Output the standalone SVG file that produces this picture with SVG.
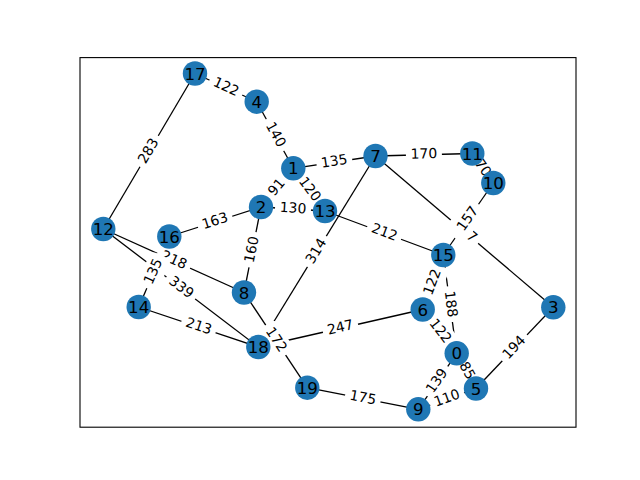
<svg xmlns="http://www.w3.org/2000/svg" width="640" height="480" viewBox="0 0 640 480">
<style>
.e{stroke:#000;stroke-width:1.3;fill:none}
.lb{fill:#fff;stroke:none}
.lt{font-family:"DejaVu Sans",sans-serif;font-size:13.9px;text-anchor:middle;fill:#000}
.n{fill:#1f77b4}
.nt{font-family:"DejaVu Sans",sans-serif;font-size:16.7px;text-anchor:middle;fill:#000}
</style>
<rect x="0" y="0" width="640" height="480" fill="#fff"/>
<rect x="80" y="57.6" width="496" height="369.6" fill="none" stroke="#000" stroke-width="1.1"/>
<g id="connectors">
<line class="e" x1="195" y1="73.5" x2="256.7" y2="101.7"/>
<line class="e" x1="195" y1="73.5" x2="103.3" y2="229"/>
<line class="e" x1="256.7" y1="101.7" x2="293.3" y2="168.3"/>
<line class="e" x1="293.3" y1="168.3" x2="375.5" y2="156"/>
<line class="e" x1="293.3" y1="168.3" x2="325" y2="211"/>
<line class="e" x1="293.3" y1="168.3" x2="261" y2="207"/>
<line class="e" x1="261" y1="207" x2="325" y2="211"/>
<line class="e" x1="261" y1="207" x2="169.3" y2="236.5"/>
<line class="e" x1="261" y1="207" x2="244" y2="292.5"/>
<line class="e" x1="375.5" y1="156" x2="472.3" y2="153.5"/>
<line class="e" x1="472.3" y1="153.5" x2="493.3" y2="183"/>
<line class="e" x1="493.3" y1="183" x2="443.3" y2="255"/>
<line class="e" x1="375.5" y1="156" x2="553.3" y2="307.3"/>
<line class="e" x1="375.5" y1="156" x2="258.3" y2="347"/>
<line class="e" x1="325" y1="211" x2="443.3" y2="255"/>
<line class="e" x1="103.3" y1="229" x2="244" y2="292.5"/>
<line class="e" x1="103.3" y1="229" x2="258.3" y2="347"/>
<line class="e" x1="138.7" y1="307" x2="169.3" y2="236.5"/>
<line class="e" x1="138.7" y1="307" x2="258.3" y2="347"/>
<line class="e" x1="244" y1="292.5" x2="307.3" y2="387.7"/>
<line class="e" x1="258.3" y1="347" x2="422.7" y2="309.5"/>
<line class="e" x1="422.7" y1="309.5" x2="443.3" y2="255"/>
<line class="e" x1="443.3" y1="255" x2="456.7" y2="353.3"/>
<line class="e" x1="422.7" y1="309.5" x2="456.7" y2="353.3"/>
<line class="e" x1="456.7" y1="353.3" x2="476" y2="388.5"/>
<line class="e" x1="456.7" y1="353.3" x2="418.3" y2="409.3"/>
<line class="e" x1="418.3" y1="409.3" x2="476" y2="388.5"/>
<line class="e" x1="307.3" y1="387.7" x2="418.3" y2="409.3"/>
<line class="e" x1="476" y1="388.5" x2="553.3" y2="307.3"/>
</g>
<g id="edge-labels">
<g transform="translate(225.85,87.6) rotate(24.6)"><rect class="lb" x="-18" y="-11" width="36" height="22" rx="5"/><text class="lt" y="3.6">122</text></g>
<g transform="translate(149.15,151.25) rotate(-59.5)"><rect class="lb" x="-18" y="-11" width="36" height="22" rx="5"/><text class="lt" y="3.6">283</text></g>
<g transform="translate(275,135) rotate(61.2)"><rect class="lb" x="-18" y="-11" width="36" height="22" rx="5"/><text class="lt" y="3.6">140</text></g>
<g transform="translate(334.4,162.15) rotate(-8.5)"><rect class="lb" x="-18" y="-11" width="36" height="22" rx="5"/><text class="lt" y="3.6">135</text></g>
<g transform="translate(309.15,189.65) rotate(53.4)"><rect class="lb" x="-18" y="-11" width="36" height="22" rx="5"/><text class="lt" y="3.6">120</text></g>
<g transform="translate(277.15,187.65) rotate(-50.1)"><rect class="lb" x="-14" y="-11" width="28" height="22" rx="5"/><text class="lt" y="3.6">91</text></g>
<g transform="translate(293,209) rotate(3.6)"><rect class="lb" x="-18" y="-11" width="36" height="22" rx="5"/><text class="lt" y="3.6">130</text></g>
<g transform="translate(215.15,221.75) rotate(-17.8)"><rect class="lb" x="-18" y="-11" width="36" height="22" rx="5"/><text class="lt" y="3.6">163</text></g>
<g transform="translate(252.5,249.75) rotate(-78.8)"><rect class="lb" x="-18" y="-11" width="36" height="22" rx="5"/><text class="lt" y="3.6">160</text></g>
<g transform="translate(423.9,154.75) rotate(-1.5)"><rect class="lb" x="-18" y="-11" width="36" height="22" rx="5"/><text class="lt" y="3.6">170</text></g>
<g transform="translate(482.3,168.25) rotate(54.6)"><rect class="lb" x="-14" y="-11" width="28" height="22" rx="5"/><text class="lt" y="3.6">70</text></g>
<g transform="translate(464.4,231.65) rotate(40.4)"><rect class="lb" x="-18" y="-11" width="36" height="22" rx="5"/><text class="lt" x="8.84" y="3.6">7</text></g>
<g transform="translate(468.3,219) rotate(-55.2)"><rect class="lb" x="-18" y="-11" width="36" height="22" rx="5"/><text class="lt" y="3.6">157</text></g>
<g transform="translate(316.9,251.5) rotate(-58.5)"><rect class="lb" x="-18" y="-11" width="36" height="22" rx="5"/><text class="lt" y="3.6">314</text></g>
<g transform="translate(384.15,233) rotate(20.4)"><rect class="lb" x="-18" y="-11" width="36" height="22" rx="5"/><text class="lt" y="3.6">212</text></g>
<g transform="translate(173.65,260.75) rotate(24.3)"><rect class="lb" x="-18" y="-11" width="36" height="22" rx="5"/><text class="lt" y="3.6">218</text></g>
<g transform="translate(180.8,288) rotate(37.3)"><rect class="lb" x="-18" y="-11" width="36" height="22" rx="5"/><text class="lt" y="3.6">339</text></g>
<g transform="translate(154,271.75) rotate(-66.5)"><rect class="lb" x="-18" y="-11" width="36" height="22" rx="5"/><text class="lt" y="3.6">135</text></g>
<g transform="translate(198.5,327) rotate(18.5)"><rect class="lb" x="-18" y="-11" width="36" height="22" rx="5"/><text class="lt" y="3.6">213</text></g>
<g transform="translate(275.65,340.1) rotate(56.4)"><rect class="lb" x="-18" y="-11" width="36" height="22" rx="5"/><text class="lt" y="3.6">172</text></g>
<g transform="translate(340.5,328.25) rotate(-12.8)"><rect class="lb" x="-18" y="-11" width="36" height="22" rx="5"/><text class="lt" y="3.6">247</text></g>
<g transform="translate(433,282.25) rotate(-69.3)"><rect class="lb" x="-18" y="-11" width="36" height="22" rx="5"/><text class="lt" y="3.6">122</text></g>
<g transform="translate(450,304.15) rotate(82.2)"><rect class="lb" x="-18" y="-11" width="36" height="22" rx="5"/><text class="lt" y="3.6">188</text></g>
<g transform="translate(439.7,331.4) rotate(52.2)"><rect class="lb" x="-18" y="-11" width="36" height="22" rx="5"/><text class="lt" y="3.6">122</text></g>
<g transform="translate(466.35,370.9) rotate(61.3)"><rect class="lb" x="-14" y="-11" width="28" height="22" rx="5"/><text class="lt" y="3.6">85</text></g>
<g transform="translate(437.5,381.3) rotate(-55.6)"><rect class="lb" x="-18" y="-11" width="36" height="22" rx="5"/><text class="lt" y="3.6">139</text></g>
<g transform="translate(447.15,398.9) rotate(-19.8)"><rect class="lb" x="-18" y="-11" width="36" height="22" rx="5"/><text class="lt" y="3.6">110</text></g>
<g transform="translate(362.8,398.5) rotate(11)"><rect class="lb" x="-18" y="-11" width="36" height="22" rx="5"/><text class="lt" y="3.6">175</text></g>
<g transform="translate(514.65,347.9) rotate(-46.4)"><rect class="lb" x="-18" y="-11" width="36" height="22" rx="5"/><text class="lt" y="3.6">194</text></g>
</g>
<g id="node-0"><circle class="n" cx="456.7" cy="353.3" r="12.2"/><text class="nt" x="456.7" y="359.3">0</text></g>
<g id="node-1"><circle class="n" cx="293.3" cy="168.3" r="12.2"/><text class="nt" x="293.3" y="174.3">1</text></g>
<g id="node-2"><circle class="n" cx="261" cy="207" r="12.2"/><text class="nt" x="261" y="213">2</text></g>
<g id="node-3"><circle class="n" cx="553.3" cy="307.3" r="12.2"/><text class="nt" x="553.3" y="313.3">3</text></g>
<g id="node-4"><circle class="n" cx="256.7" cy="101.7" r="12.2"/><text class="nt" x="256.7" y="107.7">4</text></g>
<g id="node-5"><circle class="n" cx="476" cy="388.5" r="12.2"/><text class="nt" x="476" y="394.5">5</text></g>
<g id="node-6"><circle class="n" cx="422.7" cy="309.5" r="12.2"/><text class="nt" x="422.7" y="315.5">6</text></g>
<g id="node-7"><circle class="n" cx="375.5" cy="156" r="12.2"/><text class="nt" x="375.5" y="162">7</text></g>
<g id="node-8"><circle class="n" cx="244" cy="292.5" r="12.2"/><text class="nt" x="244" y="298.5">8</text></g>
<g id="node-9"><circle class="n" cx="418.3" cy="409.3" r="12.2"/><text class="nt" x="418.3" y="415.3">9</text></g>
<g id="node-10"><circle class="n" cx="493.3" cy="183" r="12.2"/><text class="nt" x="493.3" y="189">10</text></g>
<g id="node-11"><circle class="n" cx="472.3" cy="153.5" r="12.2"/><text class="nt" x="472.3" y="159.5">11</text></g>
<g id="node-12"><circle class="n" cx="103.3" cy="229" r="12.2"/><text class="nt" x="103.3" y="235">12</text></g>
<g id="node-13"><circle class="n" cx="325" cy="211" r="12.2"/><text class="nt" x="325" y="217">13</text></g>
<g id="node-14"><circle class="n" cx="138.7" cy="307" r="12.2"/><text class="nt" x="138.7" y="313">14</text></g>
<g id="node-15"><circle class="n" cx="443.3" cy="255" r="12.2"/><text class="nt" x="443.3" y="261">15</text></g>
<g id="node-16"><circle class="n" cx="169.3" cy="236.5" r="12.2"/><text class="nt" x="169.3" y="242.5">16</text></g>
<g id="node-17"><circle class="n" cx="195" cy="73.5" r="12.2"/><text class="nt" x="195" y="79.5">17</text></g>
<g id="node-18"><circle class="n" cx="258.3" cy="347" r="12.2"/><text class="nt" x="258.3" y="353">18</text></g>
<g id="node-19"><circle class="n" cx="307.3" cy="387.7" r="12.2"/><text class="nt" x="307.3" y="393.7">19</text></g>
</svg>
